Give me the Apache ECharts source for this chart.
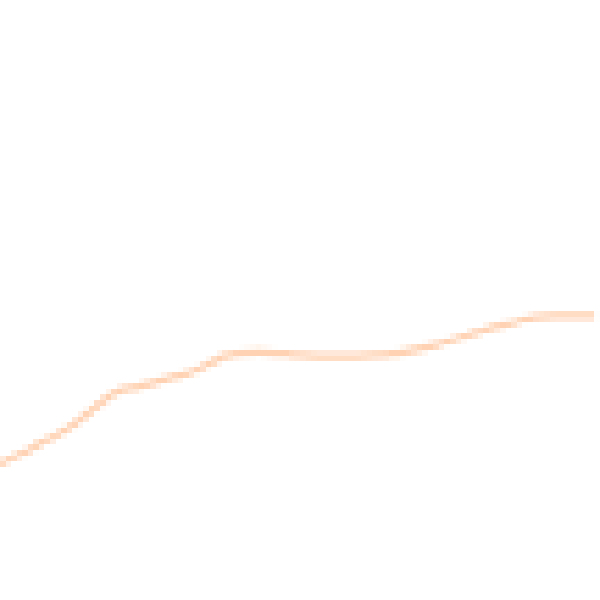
<!DOCTYPE html>
<html>
<head>
<meta charset="utf-8">
<script src="https://cdn.jsdelivr.net/npm/echarts@6/dist/echarts.min.js"></script>
<style>
  html, body { margin: 0; padding: 0; background: #ffffff; }
  #chart { width: 600px; height: 600px; }
  #chart canvas { image-rendering: pixelated; }
</style>
</head>
<body>
<div id="chart"></div>
<script>
const categories = ["0","1","2","3","4","5","6","7","8","9","10","11","12","13","14","15","16","17","18","19","20","21","22","23","24","25","26","27","28","29","30"];
const seriesValues = [22.8, 24.3, 26.0, 27.8, 30.0, 32.6, 34.8, 35.5, 36.5, 37.3, 38.4, 40.2, 41.2, 41.3, 41.2, 40.8, 40.7, 40.7, 40.7, 40.8, 41.2, 41.8, 42.5, 43.5, 44.5, 45.5, 46.3, 47.2, 47.3, 47.3, 47.3];

const chart = echarts.init(document.getElementById('chart'), null, { renderer: 'canvas', devicePixelRatio: 0.18 });
chart.setOption({
  backgroundColor: '#ffffff',
  animation: false,
  grid: { left: 0, right: 5, top: 0, bottom: 0 },
  xAxis: { type: 'category', data: categories, boundaryGap: false, show: false },
  yAxis: { type: 'value', min: 0, max: 100, show: false },
  series: [{
    type: 'line',
    data: seriesValues,
    smooth: true,
    showSymbol: false,
    lineStyle: { color: '#FFD2B3', width: 7 }
  }]
});
</script>
</body>
</html>
